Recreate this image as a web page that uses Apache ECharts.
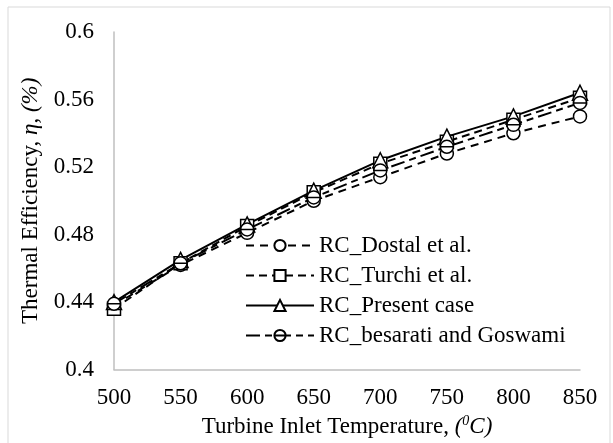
<!DOCTYPE html>
<html>
<head>
<meta charset="utf-8">
<script src="https://cdn.jsdelivr.net/npm/echarts@6/dist/echarts.min.js"></script>
<style>
  html, body { margin: 0; padding: 0; background: #fff; }
  #chart { width: 613px; height: 443px; }
</style>
</head>
<body>
<div id="chart"></div>
<script>
// Turbine inlet temperature (x) and thermal efficiency of each RC model
var temps = [500, 550, 600, 650, 700, 750, 800, 850];
var dostal = [0.438, 0.462, 0.481, 0.500, 0.514, 0.528, 0.540, 0.550];
var turchi = [0.436, 0.463, 0.485, 0.505, 0.522, 0.535, 0.548, 0.561];
var present = [0.440, 0.465, 0.486, 0.506, 0.524, 0.538, 0.550, 0.564];
var besarati = [0.439, 0.463, 0.483, 0.502, 0.518, 0.532, 0.545, 0.558];
var names = ['RC_Dostal et al.', 'RC_Turchi et al.', 'RC_Present case', 'RC_besarati and Goswami'];

var font = '"Liberation Serif", "Times New Roman", serif';
// circle with a horizontal bar through it
var barCircle = 'path://M0,10 A10,10 0 1,1 20,10 A10,10 0 1,1 0,10 Z M0,10 L20,10';

function pairs(vals) {
  return temps.map(function (t, i) { return [t, vals[i]]; });
}

function mkSeries(name, vals, symbol, dash) {
  return {
    name: name,
    type: 'line',
    data: pairs(vals),
    symbol: symbol,
    symbolSize: symbol === 'triangle' ? 15 : 13,
    showAllSymbol: true,
    lineStyle: { color: '#000', width: 2, type: dash },
    itemStyle: { color: '#fff', borderColor: '#000', borderWidth: 1.5 },
    emphasis: { disabled: true },
    animation: false
  };
}

var chart = echarts.init(document.getElementById('chart'));
chart.setOption({
  backgroundColor: '#fff',
  textStyle: { fontFamily: font, color: '#000' },
  graphic: [{
    type: 'rect',
    shape: { x: 8, y: 7, width: 602, height: 440 },
    style: { fill: 'none', stroke: '#d9d9d9', lineWidth: 1 }
  }],
  grid: { left: 114, right: 33, top: 32, bottom: 70 },
  legend: {
    orient: 'vertical',
    left: 240,
    top: 229,
    itemWidth: 68,
    itemHeight: 14,
    itemGap: 7,
    data: names,
    textStyle: { fontFamily: font, fontSize: 23, color: '#000' }
  },
  xAxis: {
    type: 'value',
    min: 500,
    max: 850,
    interval: 50,
    name: '{n|Turbine Inlet Temperature, }{i|(}{s|0}{i|C)}',
    nameLocation: 'middle',
    nameGap: 43,
    nameTextStyle: {
      rich: {
        n: { fontFamily: font, fontSize: 23, color: '#000' },
        i: { fontFamily: font, fontSize: 23, fontStyle: 'italic', color: '#000' },
        s: { fontFamily: font, fontSize: 14, fontStyle: 'italic', color: '#000', padding: [0, 0, 10, 0] }
      }
    },
    axisLine: { lineStyle: { color: '#bfbfbf', width: 1.5 } },
    axisTick: { show: false },
    splitLine: { show: false },
    axisLabel: { fontFamily: font, fontSize: 23, color: '#000', margin: 17 }
  },
  yAxis: {
    type: 'value',
    min: 0.4,
    max: 0.6,
    interval: 0.04,
    name: '{n|Thermal Efficiency, }{i|η}{n|, }{i|(%)}',
    nameLocation: 'middle',
    nameGap: 69,
    nameTextStyle: {
      rich: {
        n: { fontFamily: font, fontSize: 23, color: '#000' },
        i: { fontFamily: font, fontSize: 23, fontStyle: 'italic', color: '#000' }
      }
    },
    axisLine: { show: true, lineStyle: { color: '#bfbfbf', width: 1.5 } },
    axisTick: { show: false },
    splitLine: { show: false },
    axisLabel: { fontFamily: font, fontSize: 23, color: '#000', margin: 20 }
  },
  series: [
    mkSeries(names[0], dostal, 'circle', [8, 6]),
    mkSeries(names[1], turchi, 'rect', [8, 5]),
    mkSeries(names[2], present, 'triangle', 'solid'),
    mkSeries(names[3], besarati, barCircle, [14, 5, 7, 5])
  ]
});
</script>
</body>
</html>
